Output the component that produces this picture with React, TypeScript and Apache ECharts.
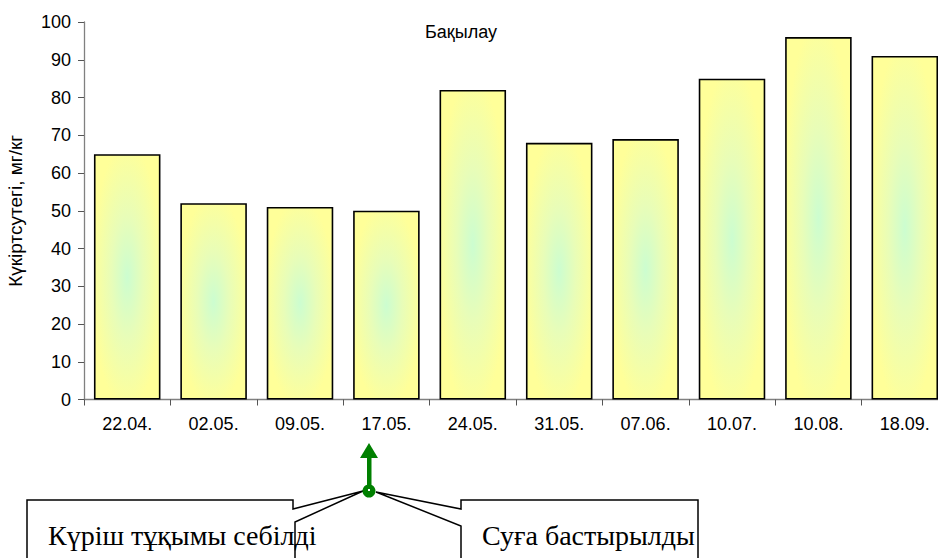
import React, { useEffect, useRef } from "react";
import * as echarts from "echarts";

const categories = ["22.04.", "02.05.", "09.05.", "17.05.", "24.05.", "31.05.", "07.06.", "10.07.", "10.08.", "18.09."];
const values = [65, 52, 51, 50, 82, 68, 69, 85, 96, 91];
const yTicks = { min: 0, max: 100, interval: 10 };
const titleText = "Бақылау";
const yAxisName = "Күкіртсутегі, мг/кг";
const noteLeft = "Күріш тұқымы себілді";
const noteRight = "Суға бастырылды";

export default function App() {
  const ref = useRef<HTMLDivElement>(null);
  useEffect(() => {
    if (!ref.current) return;
    const chart = echarts.init(ref.current, null, { renderer: "svg" });
    const green = "#008000";
    chart.setOption({
      animation: false,
      backgroundColor: "#ffffff",
      title: {
        text: titleText,
        left: 425,
        top: 23,
        padding: 0,
        textStyle: { fontFamily: "Liberation Sans, Arial", fontSize: 18, fontWeight: "normal", color: "#000" },
      },
      grid: { left: 84, width: 864, top: 22, bottom: 158.5, containLabel: false, outerBoundsMode: "none" },
      xAxis: {
        type: "category",
        data: categories,
        boundaryGap: true,
        axisLine: { lineStyle: { color: "#808080", width: 1.3 } },
        axisTick: { show: true, alignWithLabel: false, length: 6, lineStyle: { color: "#555" } },
        axisLabel: { fontFamily: "Liberation Sans, Arial", fontSize: 18, color: "#000", margin: 15, interval: 0 },
      },
      yAxis: {
        type: "value",
        min: yTicks.min,
        max: yTicks.max,
        interval: yTicks.interval,
        name: yAxisName,
        nameLocation: "middle",
        nameGap: 59,
        nameRotate: 90,
        nameTextStyle: { fontFamily: "Liberation Sans, Arial", fontSize: 19, color: "#000" },
        axisLine: { show: true, lineStyle: { color: "#808080", width: 1.3 } },
        axisTick: { show: true, length: 6, lineStyle: { color: "#555" } },
        splitLine: { show: false },
        axisLabel: { fontFamily: "Liberation Sans, Arial", fontSize: 18, color: "#000", margin: 13 },
      },
      series: [
        {
          type: "bar",
          data: values,
          barCategoryGap: "23%",
          itemStyle: {
            borderColor: "#000",
            borderWidth: 1.6,
            color: {
              type: "radial",
              x: 0.5,
              y: 0.5,
              r: 0.55,
              colorStops: [
                { offset: 0, color: "#ccfdd0" },
                { offset: 0.45, color: "#e8fdb8" },
                { offset: 1, color: "#ffff99" },
              ],
            },
          },
        },
      ],
      graphic: [
        {
          type: "polyline",
          shape: { points: [[27, 570], [27, 500], [293, 500], [293, 509], [363, 491], [295, 522], [295, 570]] },
          style: { stroke: "#000", lineWidth: 1.5, fill: "#fff" },
          z: 10,
        },
        {
          type: "polyline",
          shape: { points: [[461, 570], [461, 526], [376, 492], [461, 509], [461, 500], [698, 500], [698, 570]] },
          style: { stroke: "#000", lineWidth: 1.5, fill: "#fff" },
          z: 10,
        },
        {
          type: "text",
          x: 48,
          y: 535,
          style: { text: noteLeft, fontFamily: "Liberation Serif, Times New Roman", fontSize: 28, fill: "#000", verticalAlign: "middle" },
          z: 12,
        },
        {
          type: "text",
          x: 482,
          y: 535,
          style: { text: noteRight, fontFamily: "Liberation Serif, Times New Roman", fontSize: 28, fill: "#000", verticalAlign: "middle" },
          z: 12,
        },
        {
          type: "rect",
          shape: { x: 367, y: 456, width: 4.5, height: 35 },
          style: { fill: green },
          z: 13,
        },
        {
          type: "polygon",
          shape: { points: [[360, 458], [378, 458], [369, 443]] },
          style: { fill: green },
          z: 13,
        },
        {
          type: "circle",
          shape: { cx: 369, cy: 491, r: 6.5 },
          style: { fill: green },
          z: 14,
        },
        {
          type: "rect",
          shape: { x: 368, y: 489, width: 2, height: 2 },
          style: { fill: "#fff" },
          z: 15,
        },
      ],
    });
    return () => chart.dispose();
  }, []);
  return <div ref={ref} style={{ position: "absolute", left: 0, top: 0, width: 938, height: 558 }} />;
}
